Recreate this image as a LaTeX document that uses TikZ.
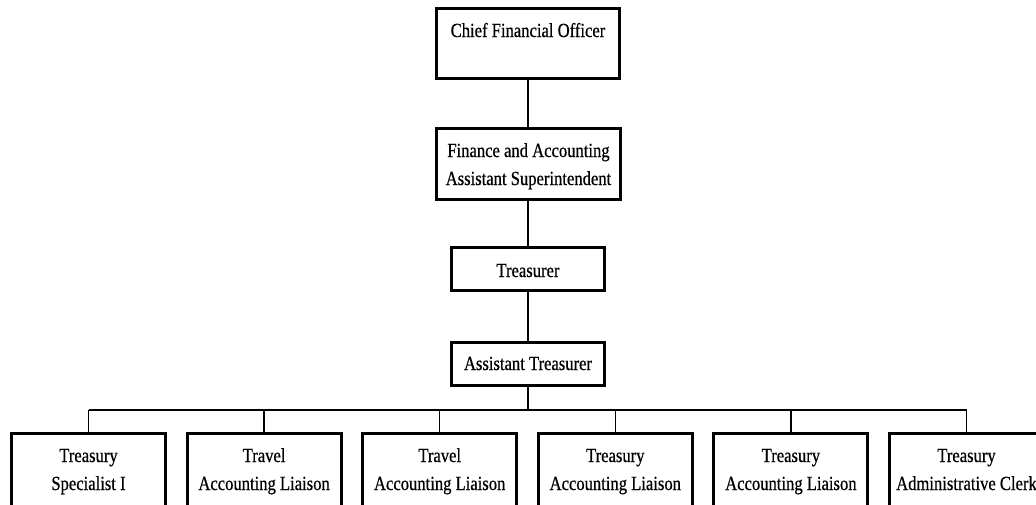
\documentclass[tikz,border=0pt]{standalone}
\usepackage{fontspec}
\newfontfamily\orgfont[FakeStretch=0.83,FakeBold=0.6]{Liberation Serif}
\begin{document}
\begin{tikzpicture}[x=1pt,y=-1pt,
  post/.style={draw=black, line width=3pt, fill=white, inner sep=0pt},
  caption/.style={font=\orgfont\fontsize{20}{24}\selectfont, anchor=base, inner sep=0pt},
  link/.style={draw=black, line width=1.5pt}]
\useasboundingbox (0,0) rectangle (1036,504);
\clip (0,0) rectangle (1036,504);
\fill[white] (0,0) rectangle (1036,504);

% upper chain of posts
\node[post, minimum width=183pt, minimum height=70pt] (cfo) at (528,43.5) {};
\node[caption] (cfotext) at (528,37) {Chief Financial Officer};

\node[post, minimum width=184pt, minimum height=71pt] (fa) at (528,164) {};
\node[caption] (fatext1) at (528.5,157) {Finance and Accounting};
\node[caption] (fatext2) at (528.5,185) {Assistant Superintendent};

\node[post, minimum width=153pt, minimum height=43pt] (tr) at (528,269) {};
\node[caption] (trtext) at (528,277) {Treasurer};

\node[post, minimum width=153pt, minimum height=43pt] (at) at (528,364) {};
\node[caption] (attext) at (528,370) {Assistant Treasurer};

\draw[link] (cfo.south) -- (fa.north);
\draw[link] (fa.south) -- (tr.north);
\draw[link] (tr.south) -- (at.north);

% bottom row of posts
\coordinate (bus) at (528,410);
\foreach \i/\top/\bottom in {1/Treasury/Specialist I,
                             2/Travel/Accounting Liaison,
                             3/Travel/Accounting Liaison,
                             4/Treasury/Accounting Liaison,
                             5/Treasury/Accounting Liaison,
                             6/Treasury/Administrative Clerk}{
  \pgfmathsetmacro{\cx}{88.5+175.6*(\i-1)}
  \node[post, minimum width=154pt, minimum height=97pt] (b\i) at (\cx,482) {};
  \node[caption] (b\i top) at (\cx,462) {\top};
  \node[caption] (b\i bot) at (\cx,490) {\bottom};
  \draw[link] (b\i.north) -- (b\i.north |- bus);
}
\draw[link] (at.south) -- (bus);
\draw[link] (b1.north |- bus) -- (b6.north |- bus);
\end{tikzpicture}
\end{document}
